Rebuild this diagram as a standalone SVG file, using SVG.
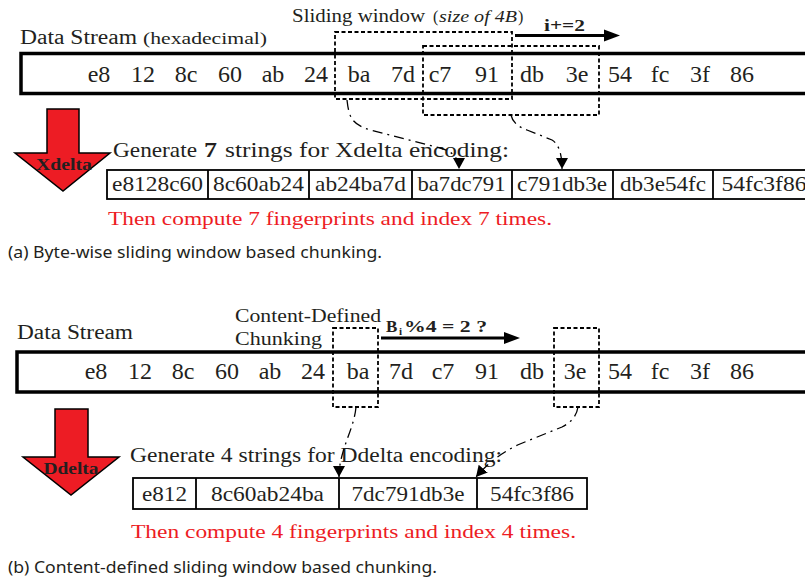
<svg xmlns="http://www.w3.org/2000/svg" width="805" height="580" viewBox="0 0 805 580">
<defs>
<style>
.s{font-family:"Liberation Serif","Times New Roman",serif;fill:#231f20}
.b{font-weight:bold}
.red{fill:#ed1c24}
.cap{font-family:"Noto Sans","Open Sans",sans-serif;fill:#231f20;font-size:17px}
.byte{font-family:"Liberation Serif",serif;font-size:24px;fill:#231f20;text-anchor:middle}
.cell{font-family:"Liberation Serif",serif;font-size:21px;fill:#231f20;text-anchor:middle}
.bar{fill:none;stroke:#000;stroke-width:3.5}
.box{fill:none;stroke:#000;stroke-width:1.8}
.win{fill:none;stroke:#000;stroke-width:1.8;stroke-dasharray:4 2.5}
.con{fill:none;stroke:#000;stroke-width:1.3;stroke-dasharray:10 5 2 5}
.big{fill:#ed1c24;stroke:#000;stroke-width:1.5}
.lbl{font-family:"Liberation Serif",serif;font-weight:bold;font-size:16px;fill:#231f20;text-anchor:middle}
</style>
<marker id="ah" markerUnits="userSpaceOnUse" markerWidth="12" markerHeight="12" refX="11" refY="6" orient="auto" viewBox="0 0 12 12">
<path d="M0,0 L11,6 L0,12 z" fill="#000"/>
</marker>
</defs>

<!-- Part (a) -->
<g id="a-title">
<text class="s" x="292" y="22" font-size="18" textLength="133" lengthAdjust="spacingAndGlyphs">Sliding window</text>
<text class="s" x="433" y="22" font-size="16">(</text>
<text class="s" x="439" y="22" font-size="16" font-style="italic" textLength="78" lengthAdjust="spacingAndGlyphs">size of 4B</text>
<text class="s" x="518" y="22" font-size="16">)</text>
<text class="s" x="20" y="44" font-size="20" textLength="117" lengthAdjust="spacingAndGlyphs">Data Stream</text>
<text class="s" x="143" y="44" font-size="17" textLength="124" lengthAdjust="spacingAndGlyphs">(hexadecimal)</text>
</g>
<g id="a-stream">
<rect class="bar" x="21" y="53.5" width="850" height="40"/>
<text class="byte" y="82"><tspan x="99">e8</tspan><tspan x="143">12</tspan><tspan x="186">8c</tspan><tspan x="230">60</tspan><tspan x="273">ab</tspan><tspan x="316">24</tspan><tspan x="359">ba</tspan><tspan x="403">7d</tspan><tspan x="440">c7</tspan><tspan x="487">91</tspan><tspan x="532">db</tspan><tspan x="577">3e</tspan><tspan x="620">54</tspan><tspan x="660">fc</tspan><tspan x="700">3f</tspan><tspan x="742">86</tspan></text>
</g>
<g id="a-window1"><rect class="win" x="335" y="32" width="177" height="67"/></g>
<g id="a-window2"><rect class="win" x="423" y="46" width="176" height="69"/></g>
<g id="a-step">
<line x1="515" y1="35.5" x2="606" y2="35.5" stroke="#000" stroke-width="3"/>
<polygon points="604,29.5 620,35.5 604,41.5" fill="#000"/>
<text class="s b" x="544" y="31" font-size="16" textLength="41" lengthAdjust="spacingAndGlyphs">i+=2</text>
</g>
<g id="a-arrow">
<polygon class="big" points="47,109 79,109 79,153 110,153 63,191 15,153 47,153"/>
<text class="lbl" x="64" y="170" textLength="56" lengthAdjust="spacingAndGlyphs">Xdelta</text>
</g>
<g id="a-generate">
<text class="s" x="113" y="157" font-size="21" textLength="84" lengthAdjust="spacingAndGlyphs">Generate</text>
<text class="s b" x="204" y="157" font-size="21" textLength="13" lengthAdjust="spacingAndGlyphs">7</text>
<text class="s" x="225" y="157" font-size="21" textLength="284" lengthAdjust="spacingAndGlyphs">strings for Xdelta encoding:</text>
</g>
<g id="a-strings">
<rect class="box" x="107" y="170" width="800" height="29"/>
<path class="box" d="M208,170V199M309,170V199M412,170V199M512,170V199M613,170V199M713,170V199"/>
<text class="cell" x="157.5" y="190.5" textLength="91" lengthAdjust="spacingAndGlyphs">e8128c60</text>
<text class="cell" x="258.5" y="190.5" textLength="91" lengthAdjust="spacingAndGlyphs">8c60ab24</text>
<text class="cell" x="360.5" y="190.5" textLength="91" lengthAdjust="spacingAndGlyphs">ab24ba7d</text>
<text class="cell" x="461.5" y="190.5" textLength="88" lengthAdjust="spacingAndGlyphs">ba7dc791</text>
<text class="cell" x="562" y="190.5" textLength="90" lengthAdjust="spacingAndGlyphs">c791db3e</text>
<text class="cell" x="663" y="190.5" textLength="86" lengthAdjust="spacingAndGlyphs">db3e54fc</text>
<text class="cell" x="764" y="190.5" textLength="85" lengthAdjust="spacingAndGlyphs">54fc3f86</text>
</g>
<g id="a-result">
<text class="s red" x="108" y="225" font-size="19" textLength="444" lengthAdjust="spacingAndGlyphs">Then compute 7 fingerprints and index 7 times.</text>
</g>
<g id="a-caption">
<text class="cap" x="8" y="258" textLength="374" lengthAdjust="spacingAndGlyphs">(a) Byte-wise sliding window based chunking.</text>
</g>

<!-- Part (b) -->
<g id="b-title">
<text class="s" x="17" y="339" font-size="20" textLength="116" lengthAdjust="spacingAndGlyphs">Data Stream</text>
<text class="s" x="235" y="322" font-size="18" textLength="146" lengthAdjust="spacingAndGlyphs">Content-Defined</text>
<text class="s" x="235" y="345" font-size="18" textLength="87" lengthAdjust="spacingAndGlyphs">Chunking</text>
</g>
<g id="b-stream">
<rect class="bar" x="17" y="352" width="850" height="40"/>
<text class="byte" y="379"><tspan x="96">e8</tspan><tspan x="140">12</tspan><tspan x="183">8c</tspan><tspan x="227">60</tspan><tspan x="270">ab</tspan><tspan x="313">24</tspan><tspan x="358">ba</tspan><tspan x="401">7d</tspan><tspan x="443">c7</tspan><tspan x="487">91</tspan><tspan x="532">db</tspan><tspan x="575">3e</tspan><tspan x="620">54</tspan><tspan x="660">fc</tspan><tspan x="700">3f</tspan><tspan x="742">86</tspan></text>
</g>
<g id="b-window1"><rect class="win" x="333" y="328" width="45" height="79"/></g>
<g id="b-window2"><rect class="win" x="554" y="328" width="45" height="79"/></g>
<g id="b-step">
<line x1="381" y1="338" x2="506" y2="338" stroke="#000" stroke-width="3"/>
<polygon points="504,332 520,338 504,344" fill="#000"/>
<text class="s b" x="386" y="332" font-size="17">B</text>
<text class="s b" x="399" y="335" font-size="11">i</text>
<text class="s b" x="404" y="332" font-size="17" textLength="83" lengthAdjust="spacingAndGlyphs">%4 = 2 ?</text>
</g>
<g id="b-arrow">
<polygon class="big" points="55,409 88,409 88,457 119,457 71,495 23,457 55,457"/>
<text class="lbl" x="71" y="474" textLength="55" lengthAdjust="spacingAndGlyphs">Ddelta</text>
</g>
<g id="b-generate">
<text class="s" x="130" y="462" font-size="20" textLength="372" lengthAdjust="spacingAndGlyphs">Generate 4 strings for Ddelta encoding:</text>
</g>
<g id="b-strings">
<rect class="box" x="133" y="478" width="454" height="31"/>
<path class="box" d="M196,478V509M339,478V509M477,478V509"/>
<text class="cell" x="164.5" y="501" font-size="22" textLength="45" lengthAdjust="spacingAndGlyphs">e812</text>
<text class="cell" x="267.5" y="501" font-size="22" textLength="113" lengthAdjust="spacingAndGlyphs">8c60ab24ba</text>
<text class="cell" x="408" y="501" font-size="22" textLength="113" lengthAdjust="spacingAndGlyphs">7dc791db3e</text>
<text class="cell" x="532" y="501" font-size="22" textLength="84" lengthAdjust="spacingAndGlyphs">54fc3f86</text>
</g>
<g id="b-result">
<text class="s red" x="131" y="538" font-size="19" textLength="445" lengthAdjust="spacingAndGlyphs">Then compute 4 fingerprints and index 4 times.</text>
</g>
<g id="b-caption">
<text class="cap" x="8" y="573" textLength="429" lengthAdjust="spacingAndGlyphs">(b) Content-defined sliding window based chunking.</text>
</g>

<g id="connectors">
<path class="con" marker-end="url(#ah)" d="M347,100 C349,118 352,124 370,130 L440,148 Q459,153 459,169"/>
<path class="con" marker-end="url(#ah)" d="M511,115 Q513,125 527,130 L552,140 Q562,146 562,169"/>
<path class="con" marker-end="url(#ah)" d="M356,407 C354,430 339,450 339,477"/>
<path class="con" marker-end="url(#ah)" d="M578,407 Q576,420 562,427 L520,444 Q495,455 476,477"/>
</g>
</svg>
